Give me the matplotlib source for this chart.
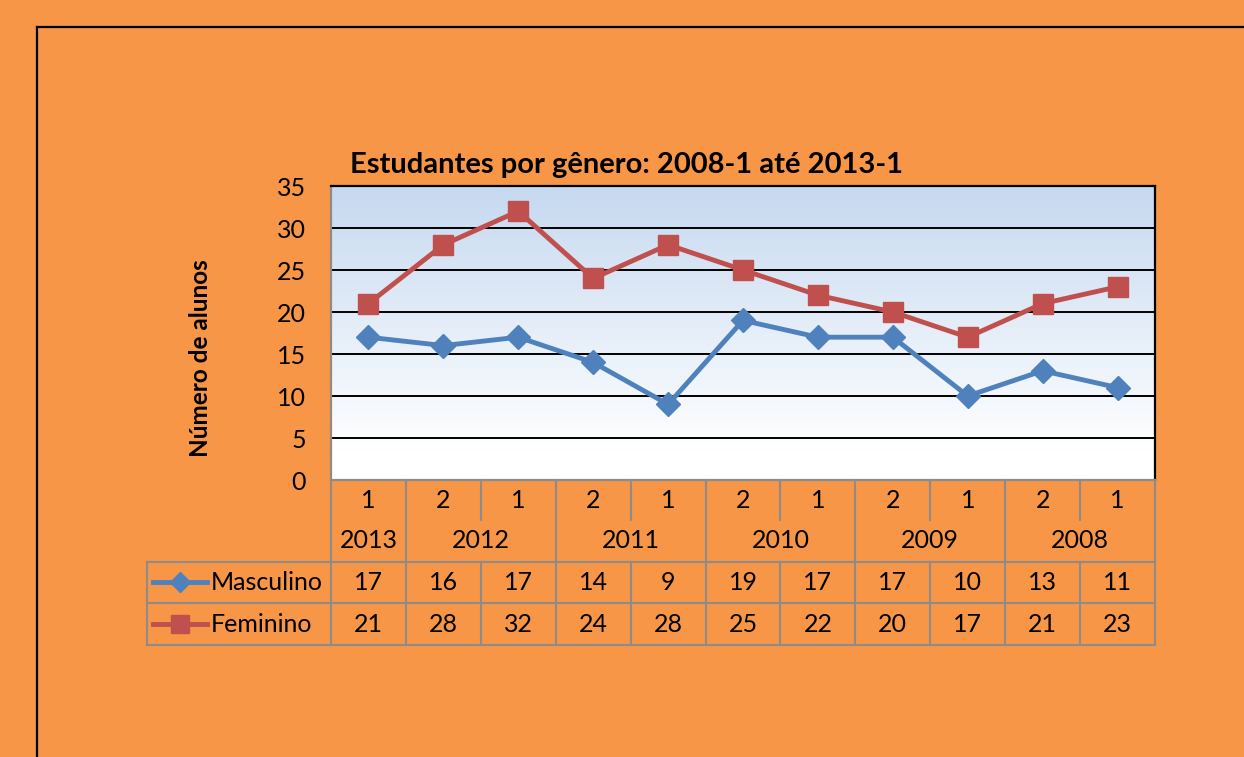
import matplotlib
matplotlib.use("Agg")
import matplotlib.pyplot as plt
import numpy as np
from matplotlib.lines import Line2D
import matplotlib.transforms as mtransforms
from matplotlib.colors import LinearSegmentedColormap

semesters = ['1', '2', '1', '2', '1', '2', '1', '2', '1', '2', '1']
years = ['2013', '2012', '2011', '2010', '2009', '2008']
year_spans = [(0, 0), (1, 2), (3, 4), (5, 6), (7, 8), (9, 10)]
masculino = [17, 16, 17, 14, 9, 19, 17, 17, 10, 13, 11]
feminino = [21, 28, 32, 24, 28, 25, 22, 20, 17, 21, 23]
series_names = ['Masculino', 'Feminino']
title = 'Estudantes por gênero: 2008-1 até 2013-1'
ylabel = 'Número de alunos'

W, H = 1244, 757
BG = '#F79646'
BLUE = '#4F81BD'
RED = '#C0504D'
GRID_GRAY = '#8C8C8C'
FONT = 'Lato'
FS = 18

plt.rcParams['font.family'] = [FONT, 'DejaVu Sans']

fig = plt.figure(figsize=(W / 100, H / 100), dpi=100, facecolor=BG)

def fy(px):
    return 1 - px / H

def fx(px):
    return px / W

# outer black border (extends beyond the image on the right/bottom)
fig.add_artist(Line2D([fx(37), fx(37)], [fy(27), fy(H + 10)], color='black', lw=1.6))
fig.add_artist(Line2D([fx(37), fx(W + 10)], [fy(27), fy(27)], color='black', lw=1.6))

L, T, R, B = 331, 186, 1155, 480
ax = fig.add_axes([fx(L), fy(B), fx(R - L), (B - T) / H])
ax.set_facecolor('white')

n = len(semesters)
x = np.arange(n)
ax.set_xlim(-0.5, n - 0.5)
ax.set_ylim(0, 35)

# gradient background
cmap = LinearSegmentedColormap.from_list('g', [(0, 'white'), (0.1, 'white'), (1, '#C6D9F0')])
grad = np.linspace(0, 1, 256).reshape(-1, 1)
ax.imshow(grad, extent=[-0.5, n - 0.5, 0, 35], origin='lower', aspect='auto', cmap=cmap, zorder=0)

ax.set_yticks(np.arange(0, 36, 5))
for yv in np.arange(5, 36, 5):
    ax.axhline(yv, color='black', lw=1.4, zorder=1)
ax.set_xticks([])
ax.tick_params(axis='y', length=0, pad=18, labelsize=FS)
for lab in ax.get_yticklabels():
    lab.set_fontfamily(FONT)

ax.spines['top'].set_color('black')
ax.spines['right'].set_color('black')
ax.spines['left'].set_color(GRID_GRAY)
ax.spines['bottom'].set_color(GRID_GRAY)
for s in ax.spines.values():
    s.set_linewidth(1.6)

ax.plot(x, masculino, color=BLUE, lw=3.5, marker='D', markersize=12.5, zorder=3, clip_on=False)
ax.plot(x, feminino, color=RED, lw=3.5, marker='s', markersize=14, zorder=3, clip_on=False)

fig.text(fx(627), fy(165), title, ha='center', va='center', fontsize=21,
         fontweight='bold', family=FONT)
fig.text(fx(200), fy(358), ylabel, ha='center', va='center', rotation=90,
         fontsize=17.5, fontweight='bold', family=FONT)

# table below the axis
tr = mtransforms.blended_transform_factory(ax.transData, fig.transFigure)
rows = [480, 520, 562, 603, 645]
lkw = dict(color=GRID_GRAY, lw=1.5, transform=tr, clip_on=False)
for yp in rows[2:]:
    fig.add_artist(Line2D([fx(147), fx(R)], [fy(yp), fy(yp)], color=GRID_GRAY, lw=1.5))
fig.add_artist(Line2D([fx(R), fx(R)], [fy(480), fy(645)], color=GRID_GRAY, lw=1.5))
fig.add_artist(Line2D([fx(L), fx(L)], [fy(480), fy(645)], color=GRID_GRAY, lw=1.5))
fig.add_artist(Line2D([fx(147), fx(147)], [fy(562), fy(645)], color=GRID_GRAY, lw=1.5))
year_bounds = set(e + 0.5 for s, e in year_spans)
for i in range(n - 1):
    xb = i + 0.5
    if xb in year_bounds:
        ax.add_line(Line2D([xb, xb], [fy(480), fy(645)], **lkw))
    else:
        ax.add_line(Line2D([xb, xb], [fy(480), fy(520)], **lkw))
        ax.add_line(Line2D([xb, xb], [fy(562), fy(645)], **lkw))

for i, s in enumerate(semesters):
    ax.text(i, fy(500), s, ha='center', va='center', fontsize=FS, transform=tr, family=FONT)
for (s, e), yr in zip(year_spans, years):
    ax.text((s + e) / 2, fy(541), yr, ha='center', va='center', fontsize=FS, transform=tr, family=FONT)
for i, v in enumerate(masculino):
    ax.text(i, fy(582), str(v), ha='center', va='center', fontsize=FS, transform=tr, family=FONT)
for i, v in enumerate(feminino):
    ax.text(i, fy(624), str(v), ha='center', va='center', fontsize=FS, transform=tr, family=FONT)

# legend keys inside the table
for yp, col, mk, ms, name in [(582, BLUE, 'D', 10, series_names[0]), (624, RED, 's', 12.5, series_names[1])]:
    fig.add_artist(Line2D([fx(153), fx(207)], [fy(yp), fy(yp)], color=col, lw=3.5))
    fig.add_artist(Line2D([fx(180)], [fy(yp)], color=col, marker=mk, markersize=ms, lw=0))
    fig.text(fx(211), fy(yp), name, ha='left', va='center', fontsize=FS, family=FONT)

fig.savefig('out.png', dpi=100, facecolor=BG)
